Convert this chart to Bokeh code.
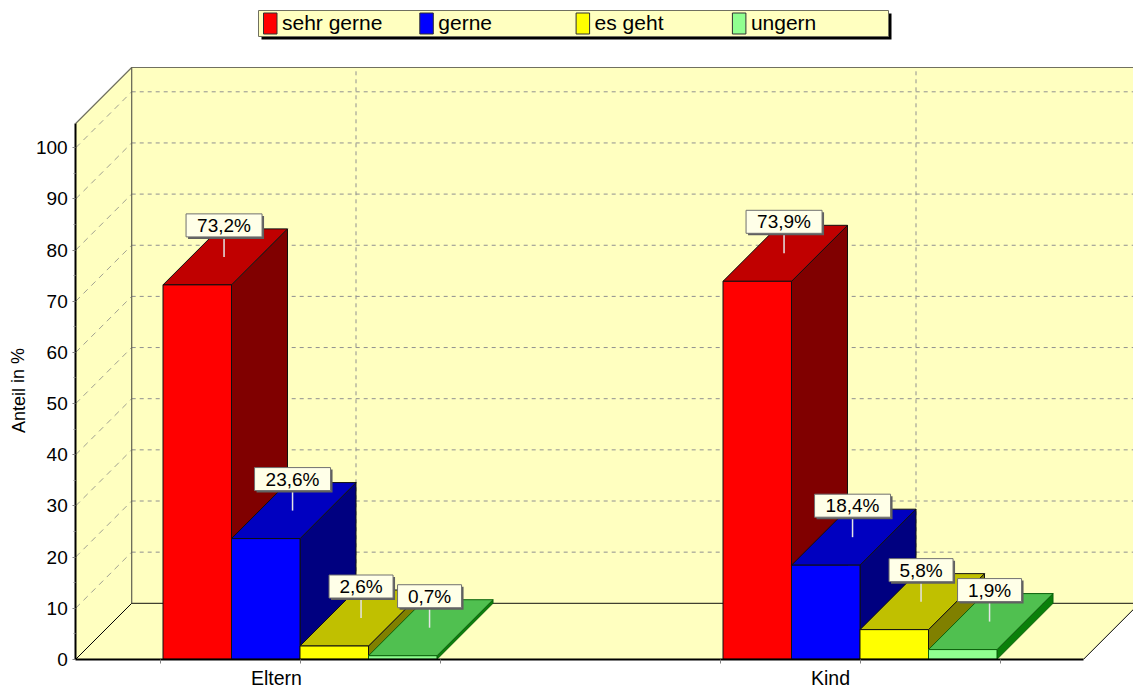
from bokeh.plotting import figure
from bokeh.models import Range1d, FixedTicker
from bokeh.core.properties import value
from bokeh.embed import file_html
from bokeh.resources import INLINE

categories = ["Eltern", "Kind"]
series = ["sehr gerne", "gerne", "es geht", "ungern"]
eltern = [73.2, 23.6, 2.6, 0.7]
kind = [73.9, 18.4, 5.8, 1.9]
labels_eltern = ["73,2%", "23,6%", "2,6%", "0,7%"]
labels_kind = ["73,9%", "18,4%", "5,8%", "1,9%"]
front = ["#FF0000", "#0000FF", "#FFFF00", "#90FF90"]
top = ["#C00000", "#0000C0", "#C0C000", "#50C050"]
side = ["#800000", "#000080", "#808000", "#0A800A"]
edge = ["#101010", "#101010", "#101010", "#0A600A"]
y_ticks = list(range(0, 101, 10))
y_minor = list(range(5, 100, 10))
x_ticks = [-0.25, 0, 0.25, 0.75, 1, 1.25]
axis_title = "Anteil in %"

WALL = "#FFFFC0"
FONT = "Liberation Sans"
W, H = 1133, 688
PX_X, PX_Y = 560.0, 5.115        # pixels per category, pixels per percent
X0_PAGE, Y0_PAGE = 299.5, 658.8  # page position of the first category on the zero line


def dx(px):
    return px / PX_X


def dy(px):
    return px / PX_Y


x_start = dx(0 - X0_PAGE)
y_start = dy(Y0_PAGE - H)
p = figure(width=W, height=H, output_backend="svg", toolbar_location=None,
           x_range=Range1d(x_start, x_start + dx(W)),
           y_range=Range1d(y_start, y_start + dy(H)),
           min_border=0, outline_line_color=None, background_fill_color="white")
p.grid.visible = False

DX, DY = dx(56), dy(56)
X_L, X_R = dx(75.2 - X0_PAGE), dx(1083 - X0_PAGE)
Y_TOP = dy(Y0_PAGE - 123)

# walls and floor
p.patch([X_L + DX, X_R + DX, X_R + DX, X_L + DX], [DY, DY, Y_TOP + DY, Y_TOP + DY],
        fill_color=WALL, line_color=None)
p.patch([X_L, X_L + DX, X_L + DX, X_L], [0, DY, Y_TOP + DY, Y_TOP],
        fill_color=WALL, line_color=None)
p.patch([X_L, X_L + DX, X_R + DX, X_R], [0, DY, DY, 0], fill_color=WALL, line_color=None)

# gridlines
grid_vals = y_ticks[1:]
p.multi_line([[X_L + DX, X_R + DX] for _ in grid_vals], [[v + DY, v + DY] for v in grid_vals],
             line_color="#909090", line_dash="4 4", line_width=1)
p.multi_line([[X_L, X_L + DX] for _ in grid_vals], [[v, v + DY] for v in grid_vals],
             line_color="#A0A090", line_dash="6 5", line_width=1)
p.multi_line([[i + DX, i + DX] for i in range(len(categories))],
             [[DY, Y_TOP + DY] for _ in categories],
             line_color="#909090", line_dash="4 4", line_width=1)

# wall edges
p.line([X_L, X_L + DX, X_R + DX], [Y_TOP, Y_TOP + DY, Y_TOP + DY], line_color="#707060", line_width=1.2)
p.line([X_L + DX, X_L + DX], [DY, Y_TOP + DY], line_color="#606050", line_width=1.2)
p.line([X_L + DX, X_R + DX], [DY, DY], line_color="#404030", line_width=1.2)
p.line([X_L, X_L + DX], [0, DY], line_color="#000000", line_width=1)
p.line([X_R, X_R + DX], [0, DY], line_color="#000000", line_width=1)

# axes
ax = p.yaxis[0]
ax.fixed_location = X_L
ax.bounds = (0, Y_TOP)
ax.ticker = FixedTicker(ticks=y_ticks, minor_ticks=y_minor)
ax.axis_line_color = "#000000"
ax.axis_line_width = 2
ax.major_tick_line_color = "#808080"
ax.major_tick_in = 0
ax.major_tick_out = 3
ax.minor_tick_line_color = "#909090"
ax.minor_tick_in = 0
ax.minor_tick_out = 2
ax.major_label_standoff = 5
ax.major_label_text_font = FONT
ax.major_label_text_font_size = "19px"
ax.major_label_text_color = "#000000"

xa = p.xaxis[0]
xa.fixed_location = 0
xa.bounds = (X_L, X_R)
xa.ticker = FixedTicker(ticks=x_ticks)
xa.major_label_overrides = {t: "" for t in x_ticks}
xa.axis_line_color = "#000000"
xa.axis_line_width = 2
xa.major_tick_line_color = "#808080"
xa.major_tick_in = 0
xa.major_tick_out = 4
xa.minor_tick_line_color = None

p.text(x=list(range(len(categories))), y=[0, 0], text=categories, x_offset=-49, y_offset=8,
       text_align="left", text_baseline="top", text_font=value(FONT),
       text_font_size=value("19.5px"), text_color="#000000")
p.text(x=[dx(18 - X0_PAGE)], y=[dy(Y0_PAGE - 390)], text=[axis_title], angle=1.5708,
       text_align="center", text_baseline="middle", text_font=value(FONT),
       text_font_size=value("18px"), text_color="#000000")

# bars
BAR_W = dx(68.5)
boxes = []
for i, vals, labs in [(0, eltern, labels_eltern), (1, kind, labels_kind)]:
    for j, v in enumerate(vals):
        x0 = i + (j - 2) * BAR_W
        x1 = x0 + BAR_W
        kw = dict(line_color=edge[j], line_width=1)
        p.patch([x1, x1 + DX, x1 + DX, x1], [0, DY, v + DY, v], fill_color=side[j], **kw)
        p.patch([x0, x1, x1 + DX, x0 + DX], [v, v, v + DY, v + DY], fill_color=top[j], **kw)
        p.patch([x0, x1, x1, x0], [0, 0, v, v], fill_color=front[j], **kw)
        boxes.append(((x0 + x1 + DX) / 2 - dx(1.2), v + DY / 2, labs[j]))

# value labels
for cx, cy, lab in boxes:
    half = dx(38 if len(lab) == 5 else 32)
    b0 = cy + dy(20)
    b1 = b0 + dy(23)
    p.line([cx, cx], [cy, b0], line_color="#E4E4E4", line_width=1.5)
    p.quad(left=cx - half + dx(2), right=cx + half + dx(2), bottom=b0 - dy(2), top=b1 - dy(2),
           fill_color="#606060", line_color=None)
    p.quad(left=cx - half, right=cx + half, bottom=b0, top=b1,
           fill_color="#FFFFE8", line_color="#707070", line_width=1)
    p.text(x=[cx], y=[(b0 + b1) / 2], text=[lab], text_align="center", text_baseline="middle",
           text_font=value(FONT), text_font_size=value("19px"), text_color="#000000")


# legend
def page_x(px):
    return dx(px - X0_PAGE)


def page_y(py):
    return dy(Y0_PAGE - py)


p.quad(left=page_x(261), right=page_x(891), bottom=page_y(39), top=page_y(13), fill_color="#000000", line_color=None)
p.quad(left=page_x(258), right=page_x(888), bottom=page_y(36), top=page_y(10), fill_color=WALL,
       line_color="#707060", line_width=1)
for j, name in enumerate(series):
    sx = 263 + 156.3 * j
    p.quad(left=page_x(sx), right=page_x(sx + 13.5), bottom=page_y(33.5), top=page_y(12.5),
           fill_color=front[j], line_color="#303030", line_width=1)
    p.text(x=[page_x(sx + 18.5)], y=[page_y(22)], text=[name], text_align="left", text_baseline="middle",
           text_font=value(FONT), text_font_size=value("21px"), text_color="#000000")

open("out.html", "w").write(file_html(p, INLINE))
